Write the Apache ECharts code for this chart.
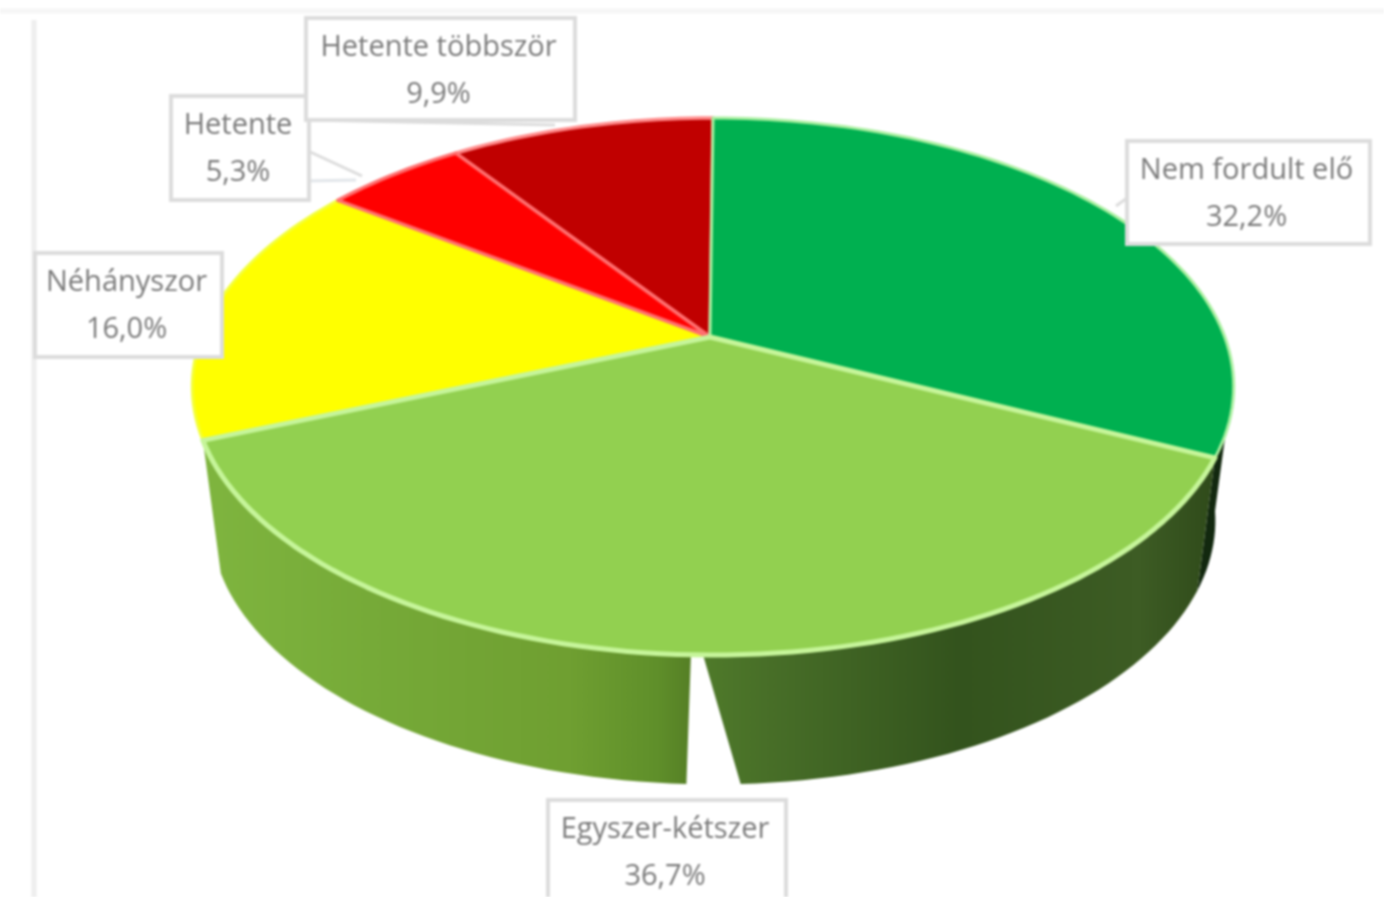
<!DOCTYPE html>
<html>
<head>
<meta charset="utf-8">
<style>
html,body{margin:0;padding:0;background:#fff;overflow:hidden}
#c{width:1384px;height:897px;filter:blur(1.2px)}
</style>
<script src="https://cdn.jsdelivr.net/npm/echarts@6/dist/echarts.min.js"></script>
</head>
<body>
<div id="c"></div>
<script>
var categories = ['Nem fordult elő', 'Egyszer-kétszer', 'Néhányszor', 'Hetente', 'Hetente többször'];
var shares = [32.2, 36.7, 16.0, 5.3, 9.9];
var topColors = ['#00b050', '#92d050', '#ffff00', '#ff0000', '#c00000'];
var rimColors = ['#a9efa0', '#c6f59a', '#f4ff3a', '#ff6f6f', '#ff8a8a'];
var rimWidths = [3, 5, 3, 3.5, 3.5];
var labelBoxes = [[1127, 141, 243, 103], [548, 800, 238, 110], [35, 253, 187, 104], [171, 96, 138, 104], [306, 18, 269, 102]];

var total = shares.reduce(function (a, b) { return a + b; }, 0);
var cum = [0];
shares.forEach(function (s, i) { cum.push(cum[i] + s / total * 360); });

// Perspective projection of a circle onto the page
var K = 0.192;
function project(deg, plane) {
  var t = deg * Math.PI / 180, x = Math.sin(t), y = -Math.cos(t), w = 1 - K * y;
  return [plane.cx + plane.a * x / w, plane.cy + plane.b * y / w];
}
var apex = [710, 337];
var topPlane = { cx: 713, cy: 335, a: 511, b: 258.6 };
var basePlane = { cx: 713, cy: 470, a: 493, b: 254 };
function arc(from, to, plane) {
  var pts = [], n = Math.max(8, Math.ceil(Math.abs(to - from) / 1.5));
  for (var i = 0; i <= n; i++) pts.push(project(from + (to - from) * i / n, plane));
  return pts;
}
function wallPoints(a1, a2, b1, b2) {
  return arc(a1, a2, topPlane).concat(arc(b2, b1, basePlane));
}
function grad(stops) {
  return new echarts.graphic.LinearGradient(0, 0, 1, 0, stops.map(function (s) { return { offset: s[0], color: s[1] }; }));
}
var walls = [
  { pts: wallPoints(99, cum[1], 99, cum[1]), fill: '#12280f' },
  { pts: wallPoints(cum[1], 180.9, cum[1], 177.4),
    fill: grad([[0, '#4f7a2a'], [0.12, '#486f28'], [0.5, '#33531d'], [0.85, '#3d5c24'], [1, '#2f4a1a']]) },
  { pts: wallPoints(182, cum[2], 182.5, cum[2]),
    fill: grad([[0, '#7fb53f'], [0.35, '#76aa38'], [0.75, '#6f9f31'], [0.93, '#5f8f2a'], [1, '#557f25']]) }
];
var drawOrder = [2, 4, 3, 0, 1];

var chart = echarts.init(document.getElementById('c'));
chart.setOption({
  animation: false,
  backgroundColor: '#ffffff',
  graphic: [
    { type: 'polyline', silent: true, z: 0, shape: { points: [[34, 897], [34, 20]] },
      style: { stroke: '#eeeeee', lineWidth: 5, fill: null } },
    { type: 'polyline', silent: true, z: 0, shape: { points: [[0, 11], [1384, 11]] },
      style: { stroke: '#f6f6f6', lineWidth: 5, fill: null } },
    { type: 'polyline', silent: true, z: 0, shape: { points: [[306, 120], [555, 125]] },
      style: { stroke: '#dddddd', lineWidth: 3, fill: null } },
    { type: 'polyline', silent: true, z: 0, shape: { points: [[306, 150], [362, 176]] },
      style: { stroke: '#dcdcdc', lineWidth: 3, fill: null } },
    { type: 'polyline', silent: true, z: 0, shape: { points: [[306, 181], [356, 180]] },
      style: { stroke: '#e2e6ea', lineWidth: 3, fill: null } },
    { type: 'polyline', silent: true, z: 0, shape: { points: [[1127, 198], [1116, 206]] },
      style: { stroke: '#dddddd', lineWidth: 3, fill: null } }
  ],
  series: [
    {
      type: 'custom', coordinateSystem: 'none', silent: true, z: 2,
      data: walls.map(function (w, i) { return [i]; }),
      renderItem: function (params) {
        var w = walls[params.dataIndex];
        return { type: 'polygon', shape: { points: w.pts }, style: { fill: w.fill, stroke: null } };
      }
    },
    {
      type: 'custom', coordinateSystem: 'none', silent: true, z: 3,
      data: drawOrder.map(function (i) { return [cum[i], cum[i + 1], i]; }),
      renderItem: function (params, api) {
        var from = api.value(0), to = api.value(1), idx = api.value(2);
        return {
          type: 'polygon',
          shape: { points: [apex].concat(arc(from, to, topPlane)) },
          style: { fill: topColors[idx], stroke: rimColors[idx], lineWidth: rimWidths[idx], lineJoin: 'round' }
        };
      }
    },
    {
      type: 'custom', coordinateSystem: 'none', silent: true, z: 5,
      data: categories.map(function (c, i) { return [i, shares[i]]; }),
      renderItem: function (params, api) {
        var i = api.value(0), b = labelBoxes[i];
        var pct = api.value(1).toFixed(1).replace('.', ',') + '%';
        var tx = b[0] + b[2] / 2 - 2;
        return {
          type: 'group',
          children: [
            { type: 'rect', shape: { x: b[0], y: b[1], width: b[2], height: b[3] },
              style: { fill: '#ffffff', stroke: '#dcdcdc', lineWidth: 4 } },
            { type: 'text', style: { x: tx, y: b[1] + 30, text: categories[i], fill: '#7a7a7a',
              font: '29px "Open Sans", sans-serif', align: 'center', verticalAlign: 'middle' } },
            { type: 'text', style: { x: tx, y: b[1] + 77, text: pct, fill: '#7a7a7a',
              font: '29px "Open Sans", sans-serif', align: 'center', verticalAlign: 'middle' } }
          ]
        };
      }
    }
  ]
});
</script>
</body>
</html>
